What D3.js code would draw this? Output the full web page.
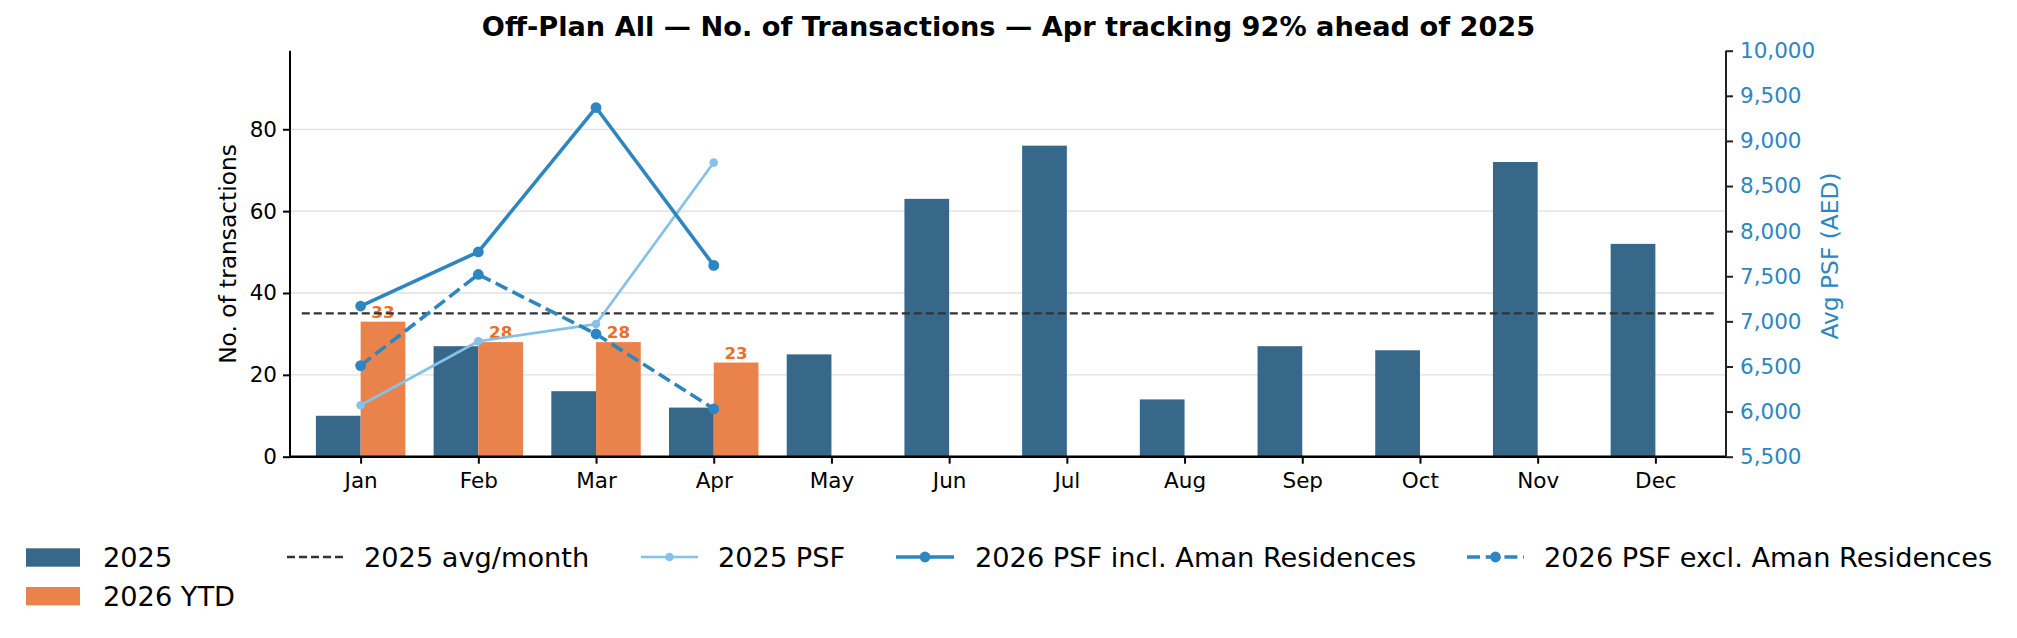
<!DOCTYPE html>
<html><head><meta charset="utf-8">
<script src="https://cdn.jsdelivr.net/npm/d3@7/dist/d3.min.js"></script>
<style>
body{margin:0;background:#fff;}
svg{display:block;font-family:"DejaVu Sans",sans-serif;}
</style></head>
<body><svg id="c" width="2017" height="638"></svg>
<script>
const months = ["Jan","Feb","Mar","Apr","May","Jun","Jul","Aug","Sep","Oct","Nov","Dec"];
const tx2025 = [10,27,16,12,25,63,76,14,27,26,72,52];
const tx2026 = [33,28,28,23];
const psf2025 = [6070,6780,6970,8760];
const psf2026Incl = [7170,7770,9370,7620];
const psf2026Excl = [6510,7520,6860,6030];
const leftTicks = [0,20,40,60,80];
const rightTicks = [5500,6000,6500,7000,7500,8000,8500,9000,9500,10000];
const title = "Off-Plan All — No. of Transactions — Apr tracking 92% ahead of 2025";

const C = {bar25:"#37688a", bar26:"#ea824c", lbl:"#e8702a", incl:"#2e86c1", excl:"#2e86c1", p25:"#85c1e9", avg:"#333333", axisBlue:"#2e86c1"};

const svg = d3.select("#c");
const L=290, R=1726, T=50.7, B=456.7;
const x = d3.scaleLinear().domain([-0.6,11.6]).range([L,R]);
const yL = d3.scaleLinear().domain([0,99.2]).range([B,T]);
const yR = d3.scaleLinear().domain([5500,10000]).range([B,T]);
const bw = 0.38;
const TF = 21.5;

// title
svg.append("text").attr("x",1008.5).attr("y",36).attr("text-anchor","middle")
  .attr("font-size",27.2).attr("font-weight","bold").text(title);

// grid
svg.append("g").selectAll("line").data(leftTicks.filter(d=>d>0)).join("line")
  .attr("x1",L).attr("x2",R).attr("y1",d=>yL(d)).attr("y2",d=>yL(d))
  .attr("stroke","#e0e0e0").attr("stroke-width",1.3);

// bars
svg.append("g").selectAll("rect").data(tx2025).join("rect")
  .attr("x",(d,i)=>x(i-bw)).attr("width",x(bw)-x(0)).attr("y",d=>yL(d)).attr("height",d=>B-yL(d))
  .attr("fill",C.bar25);
svg.append("g").selectAll("rect").data(tx2026).join("rect")
  .attr("x",(d,i)=>x(i)).attr("width",x(bw)-x(0)).attr("y",d=>yL(d)).attr("height",d=>B-yL(d))
  .attr("fill",C.bar26);
// labels
svg.append("g").selectAll("text").data(tx2026).join("text")
  .attr("x",(d,i)=>x(i+bw/2)).attr("y",d=>yL(d)-4).attr("text-anchor","middle")
  .attr("font-size",16.7).attr("font-weight","bold").attr("fill",C.lbl).text(d=>d);

// avg line
const avg = d3.mean(tx2025);
svg.append("line").attr("x1",x(-0.5)).attr("x2",x(11.5)).attr("y1",yL(avg)).attr("y2",yL(avg))
  .attr("stroke",C.avg).attr("stroke-width",2.3).attr("stroke-dasharray","8,4");

// axes
const axL = svg.append("g").attr("transform",`translate(${L},0)`)
  .call(d3.axisLeft(yL).tickValues(leftTicks).tickSize(7).tickPadding(6));
axL.select(".domain").attr("stroke","#000").attr("stroke-width",2).attr("d",`M0,${B}V${T}`);
axL.selectAll(".tick line").attr("stroke-width",2);
axL.selectAll(".tick text").attr("font-size",TF).attr("font-family","DejaVu Sans");

const axB = svg.append("g").attr("transform",`translate(0,${B})`)
  .call(d3.axisBottom(x).tickValues(d3.range(12)).tickFormat(i=>months[i]).tickSize(7).tickPadding(9));
axB.select(".domain").attr("stroke","#000").attr("stroke-width",2.6).attr("d",`M${L},0H${R}`);
axB.selectAll(".tick line").attr("stroke-width",2);
axB.selectAll(".tick text").attr("font-size",TF).attr("font-family","DejaVu Sans");

const axR = svg.append("g").attr("transform",`translate(${R},0)`)
  .call(d3.axisRight(yR).tickValues(rightTicks).tickFormat(d3.format(",")).tickSize(7).tickPadding(7));
axR.select(".domain").attr("stroke","#222").attr("stroke-width",2).attr("d",`M0,${B}V${T}`);
axR.selectAll(".tick line").attr("stroke","#222").attr("stroke-width",2);
axR.selectAll(".tick text").attr("font-size",TF).attr("fill",C.axisBlue).attr("font-family","DejaVu Sans");

// axis titles
svg.append("text").attr("transform",`translate(236,254) rotate(-90)`).attr("text-anchor","middle")
  .attr("font-size",23.3).text("No. of transactions");
svg.append("text").attr("transform",`translate(1838,256) rotate(-90)`).attr("text-anchor","middle")
  .attr("font-size",23.3).attr("fill",C.axisBlue).text("Avg PSF (AED)");

// PSF lines
const line = d3.line().x((d,i)=>x(i)).y(d=>yR(d));
function drawSeries(data,color,w,dash,r){
  const g = svg.append("g");
  g.append("path").attr("d",line(data)).attr("fill","none").attr("stroke",color)
    .attr("stroke-width",w).attr("stroke-dasharray",dash||null).attr("stroke-linejoin","round");
  g.selectAll("circle").data(data).join("circle").attr("cx",(d,i)=>x(i)).attr("cy",d=>yR(d))
    .attr("r",r).attr("fill",color);
}
drawSeries(psf2025,C.p25,2.7,null,4.3);
drawSeries(psf2026Incl,C.incl,3.6,null,5.4);
drawSeries(psf2026Excl,C.excl,3.6,"13,5.7",5.4);

// legend
const lg = svg.append("g").attr("font-size",27.2);
const r1=557, r2=596;
lg.append("rect").attr("x",26).attr("y",548.3).attr("width",54).attr("height",18.4).attr("fill",C.bar25);
lg.append("rect").attr("x",26).attr("y",587).attr("width",54).attr("height",18.4).attr("fill",C.bar26);
lg.append("text").attr("x",103).attr("y",r1).attr("dy","0.35em").text("2025");
lg.append("text").attr("x",103).attr("y",r2).attr("dy","0.35em").text("2026 YTD");
lg.append("line").attr("x1",287).attr("x2",343).attr("y1",r1).attr("y2",r1).attr("stroke",C.avg).attr("stroke-width",2.3).attr("stroke-dasharray","8,4");
lg.append("text").attr("x",364).attr("y",r1).attr("dy","0.35em").text("2025 avg/month");
lg.append("line").attr("x1",641).attr("x2",698).attr("y1",r1).attr("y2",r1).attr("stroke",C.p25).attr("stroke-width",2.7);
lg.append("circle").attr("cx",669.5).attr("cy",r1).attr("r",4.3).attr("fill",C.p25);
lg.append("text").attr("x",718).attr("y",r1).attr("dy","0.35em").text("2025 PSF");
lg.append("line").attr("x1",896).attr("x2",954).attr("y1",r1).attr("y2",r1).attr("stroke",C.incl).attr("stroke-width",3.6);
lg.append("circle").attr("cx",925).attr("cy",r1).attr("r",5.4).attr("fill",C.incl);
lg.append("text").attr("x",975).attr("y",r1).attr("dy","0.35em").text("2026 PSF incl. Aman Residences");
lg.append("line").attr("x1",1467).attr("x2",1524).attr("y1",r1).attr("y2",r1).attr("stroke",C.excl).attr("stroke-width",3.6).attr("stroke-dasharray","13,5.7");
lg.append("circle").attr("cx",1495.5).attr("cy",r1).attr("r",5.4).attr("fill",C.excl);
lg.append("text").attr("x",1544).attr("y",r1).attr("dy","0.35em").text("2026 PSF excl. Aman Residences");
</script></body></html>
